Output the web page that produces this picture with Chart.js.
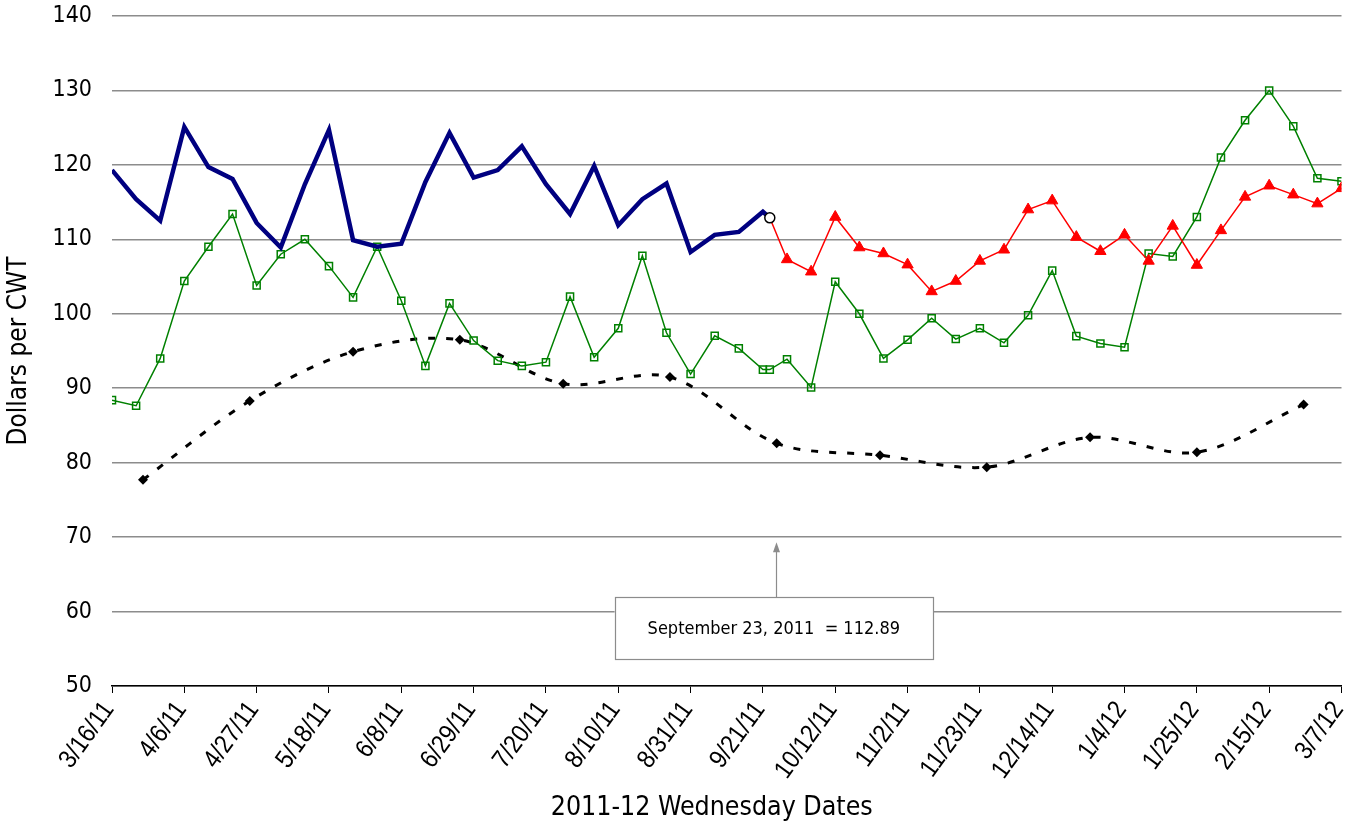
<!DOCTYPE html>
<html>
<head>
<meta charset="utf-8">
<script src="https://cdn.jsdelivr.net/npm/chart.js@4/dist/chart.umd.min.js"></script>
<style>
  html, body { margin: 0; padding: 0; background: #fff; }
  #wrap { width: 1349px; height: 825px; }
</style>
</head>
<body>
<div id="wrap"><canvas id="c" width="1349" height="825"></canvas></div>
<script>
// ---------- DATA ----------
const dates = [
  '3/16/11','3/23/11','3/30/11','4/6/11','4/13/11','4/20/11','4/27/11','5/4/11','5/11/11','5/18/11',
  '5/25/11','6/1/11','6/8/11','6/15/11','6/22/11','6/29/11','7/6/11','7/13/11','7/20/11','7/27/11',
  '8/3/11','8/10/11','8/17/11','8/24/11','8/31/11','9/7/11','9/14/11','9/21/11','9/23/11','9/28/11',
  '10/5/11','10/12/11','10/19/11','10/26/11','11/2/11','11/9/11','11/16/11','11/23/11','11/30/11','12/7/11',
  '12/14/11','12/21/11','12/28/11','1/4/12','1/11/12','1/18/12','1/25/12','2/1/12','2/8/12','2/15/12',
  '2/22/12','2/29/12','3/7/12'
];
const blueValues = [
  119.3,115.4,112.5,125.1,119.7,118.1,112.2,108.9,117.4,124.7,
  109.9,109.0,109.4,117.7,124.3,118.3,119.3,122.5,117.4,113.4,
  119.85,111.9,115.4,117.5,108.3,110.6,111.0,113.7,112.89,null,
  null,null,null,null,null,null,null,null,null,null,
  null,null,null,null,null,null,null,null,null,null,
  null,null,null
];
const redValues = [
  null,null,null,null,null,null,null,null,null,null,
  null,null,null,null,null,null,null,null,null,null,
  null,null,null,null,null,null,null,null,112.89,107.3,
  105.65,113.0,108.9,108.1,106.6,103.0,104.4,107.1,108.6,114.0,
  115.2,110.3,108.4,110.6,107.1,111.8,106.55,111.2,115.7,117.2,
  116.0,114.8,116.85
];
const greenValues = [
  88.4,87.65,94.0,104.4,109.0,113.4,103.8,108.0,110.0,106.4,
  102.2,109.0,101.75,93.0,101.4,96.4,93.7,93.0,93.5,102.3,
  94.15,98.05,107.8,97.45,91.9,97.05,95.35,92.5,92.5,93.9,
  90.1,104.3,100.0,94.0,96.5,99.4,96.6,98.05,96.1,99.8,
  105.8,97.0,96.0,95.5,108.1,107.7,113.0,121.0,126.0,130.0,
  125.2,118.2,117.8
];
const monthDates = ['3/25/11','4/25/11','5/25/11','6/25/11','7/25/11','8/25/11','9/25/11','10/25/11','11/25/11','12/25/11','1/25/12','2/25/12'];
const blackValues = [77.7,88.3,94.9,96.5,90.6,91.5,82.6,81.0,79.4,83.4,81.4,87.8];
const tickLabels = ['3/16/11','4/6/11','4/27/11','5/18/11','6/8/11','6/29/11','7/20/11','8/10/11','8/31/11',
  '9/21/11','10/12/11','11/2/11','11/23/11','12/14/11','1/4/12','1/25/12','2/15/12','3/7/12'];
const yTicksMin = 50, yTicksMax = 140, yStep = 10;
const xTitle = '2011-12 Wednesday Dates';
const yTitle = 'Dollars per CWT';
const noteDate = '9/23/11';
const noteText = 'September 23, 2011  = 112.89';
const noteArrowTip = 69.3, noteBoxTop = 61.95, noteBoxBottom = 53.6;

// ---------- helpers ----------
const origin = Date.UTC(2011, 2, 16);
function dayOf(s) {
  const [m, d, y] = s.split('/').map(Number);
  return Math.round((Date.UTC(2000 + y, m - 1, d) - origin) / 864e5);
}
function pts(ds, vals) { return ds.map((d, i) => ({ x: dayOf(d), y: vals[i] })); }
const lastDay = dayOf(tickLabels[tickLabels.length - 1]);
const stepDays = dayOf(tickLabels[1]);
const noteIndex = dates.indexOf(noteDate);

const condensed = "'DejaVu Sans Condensed', 'DejaVu Sans', sans-serif";
const narrow = "'Liberation Sans Narrow', 'Arial Narrow', 'Liberation Sans', sans-serif";

const notePlugin = {
  id: 'note',
  afterDatasetsDraw(chart) {
    const { ctx, scales: { x, y } } = chart;
    const cx = x.getPixelForValue(dayOf(noteDate)) + 4;
    const tip = y.getPixelForValue(noteArrowTip);
    const top = y.getPixelForValue(noteBoxTop);
    const bot = y.getPixelForValue(noteBoxBottom);
    ctx.save();
    ctx.font = "18px " + condensed;
    const tw = ctx.measureText(noteText).width;
    const w = tw + 66;
    ctx.fillStyle = '#fff';
    ctx.fillRect(cx - w / 2, top, w, bot - top);
    ctx.strokeStyle = '#8c8c8c';
    ctx.lineWidth = 1.2;
    ctx.strokeRect(Math.round(cx - w / 2) + 0.5, Math.round(top) + 0.5, Math.round(w), Math.round(bot - top));
    const ax = Math.round(cx + 2) + 0.5;
    ctx.beginPath();
    ctx.moveTo(ax, top);
    ctx.lineTo(ax, tip + 8);
    ctx.stroke();
    ctx.fillStyle = '#8c8c8c';
    ctx.beginPath();
    ctx.moveTo(ax, tip);
    ctx.lineTo(ax - 3.5, tip + 10);
    ctx.lineTo(ax + 3.5, tip + 10);
    ctx.closePath();
    ctx.fill();
    ctx.fillStyle = '#000';
    ctx.textAlign = 'center';
    ctx.textBaseline = 'middle';
    ctx.fillText(noteText, cx, (top + bot) / 2 + 1);
    ctx.restore();
  },
  afterDraw(chart) {
    const { ctx, chartArea, scales: { x } } = chart;
    ctx.save();
    // x axis title
    ctx.font = "26.5px " + condensed;
    ctx.fillStyle = '#000';
    ctx.textAlign = 'center';
    ctx.textBaseline = 'middle';
    ctx.fillText(xTitle, (chartArea.left + chartArea.right) / 2 - 15, 808);
    // x tick labels (narrow, rotated)
    ctx.font = "26px " + narrow;
    ctx.textAlign = 'right';
    ctx.textBaseline = 'middle';
    const ang = -54 * Math.PI / 180;
    tickLabels.forEach((t, i) => {
      const px = x.getPixelForValue(i * stepDays);
      ctx.save();
      ctx.translate(px - 3, chartArea.bottom + 19);
      ctx.rotate(ang);
      ctx.scale(0.88, 1);
      ctx.fillText(t, 0, 0);
      ctx.restore();
    });
    ctx.restore();
  }
};

new Chart(document.getElementById('c'), {
  type: 'line',
  data: {
    datasets: [
      {
        label: 'blue',
        data: pts(dates, blueValues),
        borderColor: '#000080',
        borderWidth: 4.5,
        tension: 0,
        pointRadius: (c) => c.dataIndex === noteIndex ? 5 : 0,
        pointStyle: 'circle',
        pointBackgroundColor: '#fff',
        pointBorderColor: '#000',
        pointBorderWidth: 1.5,
        borderJoinStyle: 'miter'
      },
      {
        label: 'red',
        data: pts(dates, redValues),
        borderColor: '#ff0000',
        borderWidth: 1.5,
        tension: 0,
        pointRadius: (c) => c.dataIndex === noteIndex ? 0 : 6.5,
        pointStyle: 'triangle',
        pointBackgroundColor: '#ff0000',
        pointBorderColor: '#ff0000',
        pointBorderWidth: 1
      },
      {
        label: 'green',
        data: pts(dates, greenValues),
        borderColor: '#008000',
        borderWidth: 1.5,
        tension: 0,
        pointRadius: 5,
        pointStyle: 'rect',
        pointBackgroundColor: 'rgba(0,0,0,0)',
        pointBorderColor: '#008000',
        pointBorderWidth: 1.5
      },
      {
        label: 'black',
        data: pts(monthDates, blackValues),
        borderColor: '#000',
        borderWidth: 3,
        borderDash: [7, 11],
        tension: 0.33,
        pointRadius: 5,
        pointStyle: 'rectRot',
        pointBackgroundColor: '#000',
        pointBorderColor: '#000',
        pointBorderWidth: 0
      }
    ]
  },
  options: {
    responsive: false,
    animation: false,
    events: [],
    layout: { padding: { left: 4, right: 7, top: 16, bottom: 0 } },
    plugins: { legend: { display: false }, tooltip: { enabled: false } },
    scales: {
      x: {
        type: 'linear',
        min: 0,
        max: lastDay,
        afterFit(s) { s.height = 825 - 686; s.paddingLeft = 0; s.paddingRight = 0; s.paddingTop = 0; s.paddingBottom = 0; },
        ticks: {
          stepSize: stepDays,
          autoSkip: false,
          display: false
        },
        grid: { drawOnChartArea: false, color: '#000', tickLength: 7, lineWidth: 1 },
        border: { color: '#000', width: 1.5 },
        title: { display: false }
      },
      y: {
        min: yTicksMin,
        max: yTicksMax,
        afterFit(s) { s.width = 112 - 4; s.paddingTop = 0; s.paddingBottom = 0; },
        ticks: {
          stepSize: yStep,
          padding: 20,
          color: '#000',
          font: { family: condensed, size: 23 }
        },
        grid: { color: '#8c8c8c', lineWidth: 1.5, drawTicks: false },
        border: { display: false },
        title: {
          display: true,
          text: yTitle,
          color: '#000',
          font: { family: condensed, size: 26 },
          padding: { top: 0, bottom: 0 }
        }
      }
    }
  },
  plugins: [notePlugin]
});
</script>
</body>
</html>
